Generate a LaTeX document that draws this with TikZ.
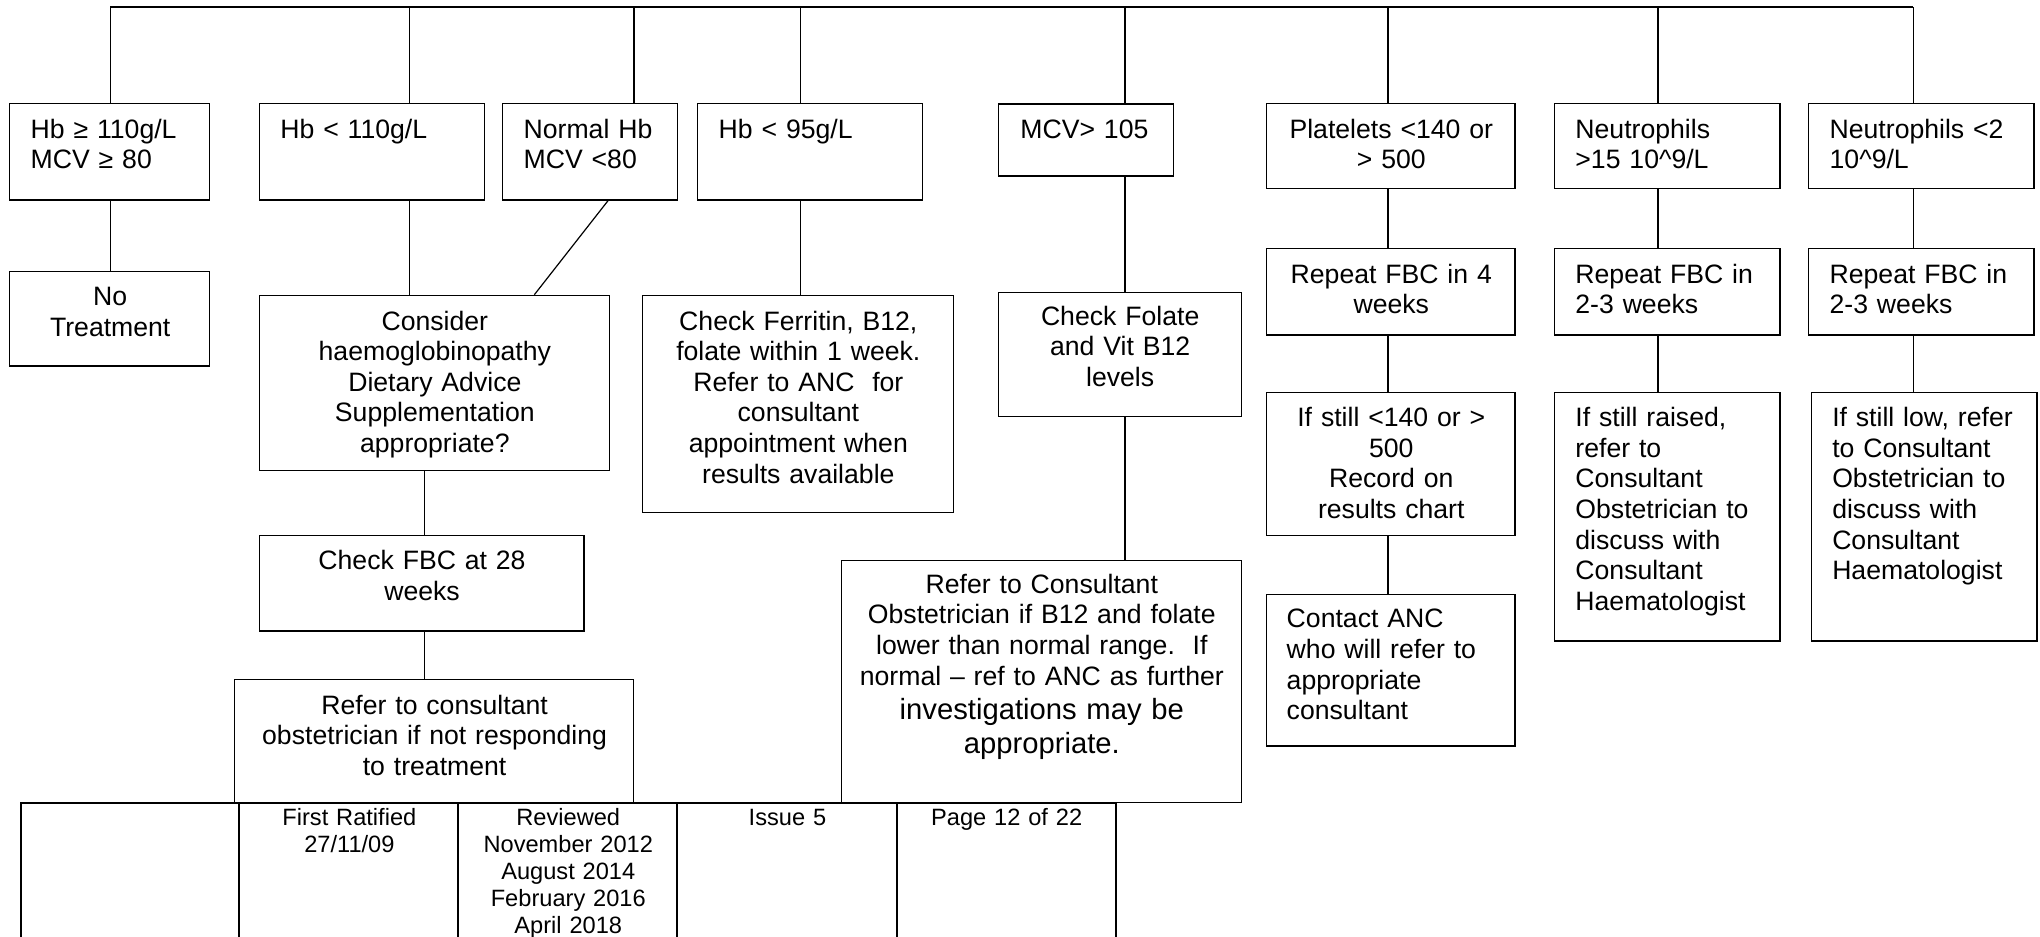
\documentclass[tikz,border=0pt]{standalone}
\usepackage{fontspec}
\setmainfont{Liberation Sans}
\usetikzlibrary{fit}
\begin{document}
\begin{tikzpicture}[x=0.65pt,y=-0.65pt,
  box/.style={draw, line width=0.6pt, inner sep=0pt},
  cell/.style={draw, line width=1pt, inner sep=0pt},
  lnk/.style={line width=0.6pt},
  txt/.style={inner sep=0pt, anchor=base west, font=\fontsize{13.3}{15.3}\selectfont},
  lt/.style={txt, align=left},
  ct/.style={txt, align=center},
  big/.style={txt, align=center, font=\fontsize{14.6}{16.9}\selectfont},
  tab/.style={inner sep=0pt, anchor=base west, align=center, font=\fontsize{11.8}{13.45}\selectfont},
]
\useasboundingbox (0,0) rectangle (1568,720);

% ---- boxes ----
\node[box, fit={(7.5,79.4) (161.3,153.7)}] (A) {};
\node[box, fit={(199.4,79.4) (372.3,153.7)}] (B) {};
\node[box, fit={(386,79.4) (520.5,153.7)}] (C) {};
\node[box, fit={(536.4,79.4) (709.3,153.7)}] (D) {};
\node[box, fit={(767.4,80) (901.9,135.3)}] (E) {};
\node[box, fit={(973.6,79.4) (1164.5,144.7)}] (F) {};
\node[box, fit={(1194.7,79.4) (1368.2,144.7)}] (G) {};
\node[box, fit={(1389.8,79.4) (1563.3,144.7)}] (H) {};

\node[box, fit={(7.5,208.8) (161.3,281.3)}] (A2) {};
\node[box, fit={(199.4,227) (468.4,361.7)}] (B2) {};
\node[box, fit={(494,227) (732.6,393.7)}] (D2) {};
\node[box, fit={(767.3,225) (954,320)}] (E2) {};
\node[box, fit={(973.6,190.9) (1164.5,257.5)}] (F2) {};
\node[box, fit={(1194.7,190.9) (1368.2,257.5)}] (G2) {};
\node[box, fit={(1389.8,190.9) (1563.3,257.5)}] (H2) {};

\node[box, fit={(973.6,301.6) (1164.5,411.7)}] (F3) {};
\node[box, fit={(1194.7,301.6) (1368.2,492.7)}] (G3) {};
\node[box, fit={(1392.1,301.6) (1565.6,492.7)}] (H3) {};
\node[box, fit={(973.6,456.8) (1164.5,573.4)}] (F4) {};
\node[box, fit={(199.3,411.7) (448.8,485)}] (B3) {};
\node[box, fit={(180.5,522.3) (487,617)}] (B4) {};
\node[box, fit={(647,430.5) (954,617)}] (E3) {};

% ---- footer table ----
\node[cell, fit={(16,617) (184,735)}] (T1) {};
\node[cell, fit={(184,617) (352.4,735)}] (T2) {};
\node[cell, fit={(352.4,617) (520.5,735)}] (T3) {};
\node[cell, fit={(520.5,617) (689.4,735)}] (T4) {};
\node[cell, fit={(689.4,617) (857.5,735)}] (T5) {};

% ---- texts ----
\node[lt, text width=88.4pt] (tA) at (23.3,106.3) {Hb ≥ 110g/L\\MCV ≥ 80};
\node[lt, text width=100.8pt] (tB) at (215.2,106.3) {Hb < 110g/L};
\node[lt, text width=75.6pt] (tC) at (402.2,106.3) {Normal Hb\\MCV <80};
\node[lt, text width=100.8pt] (tD) at (552.1,106.3) {Hb < 95g/L};
\node[lt, text width=75.3pt] (tE) at (784,106.3) {MCV> 105};
\node[ct, text width=117.6pt] (tF) at (978.6,106.3) {Platelets <140 or\\> 500};
\node[lt, text width=101.1pt] (tG) at (1210.6,106.3) {Neutrophils\\>15 10\^{}9/L};
\node[lt, text width=100.9pt] (tH) at (1406,106.3) {Neutrophils <2\\10\^{}9/L};

\node[ct, text width=93.5pt] (tA2) at (12.5,235) {No\\Treatment};
\node[ct, text width=168.4pt] (tB2) at (204.4,253.7) {Consider\\haemoglobinopathy\\Dietary Advice\\Supplementation\\appropriate?};
\node[ct, text width=148.6pt] (tD2) at (499,253.7) {Check Ferritin, B12,\\folate within 1 week.\\Refer to ANC\ \ for\\consultant\\appointment when\\results available};
\node[ct, text width=114.9pt] (tE2) at (772.3,249.8) {Check Folate\\and Vit B12\\levels};
\node[ct, text width=117.6pt] (tF2) at (978.6,217.8) {Repeat FBC in 4\\weeks};
\node[lt, text width=101.1pt] (tG2) at (1210.6,217.8) {Repeat FBC in\\2-3 weeks};
\node[lt, text width=100.9pt] (tH2) at (1406,217.8) {Repeat FBC in\\2-3 weeks};

\node[ct, text width=117.6pt] (tF3) at (978.6,328) {If still <140 or >\\500\\Record on\\results chart};
\node[lt, text width=101.1pt] (tG3) at (1210.6,328) {If still raised,\\refer to\\Consultant\\Obstetrician to\\discuss with\\Consultant\\Haematologist};
\node[lt, text width=101.1pt] (tH3) at (1408,328) {If still low, refer\\to Consultant\\Obstetrician to\\discuss with\\Consultant\\Haematologist};
\node[lt, text width=113pt] (tF4) at (988.7,482.5) {Contact ANC\\who will refer to\\appropriate\\consultant};
\node[ct, text width=155.7pt] (tB3) at (204.3,438) {Check FBC at 28\\weeks};
\node[ct, text width=192.7pt] (tB4) at (185.5,548.8) {Refer to consultant\\obstetrician if not responding\\to treatment};
\node[ct, text width=193pt] (tE3a) at (652,456) {Refer to Consultant\\Obstetrician if B12 and folate\\lower than normal range.\ \ If\\normal – ref to ANC as further};
\node[big, text width=193pt] (tE3b) at (652,552.8) {investigations may be\\appropriate.};

\node[tab, text width=103pt] (tT2) at (189,634.7) {First Ratified\\27/11/09};
\node[tab, text width=102.8pt] (tT3) at (357.4,634.7) {Reviewed\\November 2012\\August 2014\\February 2016\\April 2018};
\node[tab, text width=103.3pt] (tT4) at (525.5,634.7) {Issue 5};
\node[tab, text width=102.8pt] (tT5) at (694.4,634.7) {Page 12 of 22};

% ---- connectors ----
\coordinate (xA) at (84.8,5.6);
\coordinate (xB) at (314.7,5.6);
\coordinate (xC) at (487.3,5.6);
\coordinate (xD) at (615.2,5.6);
\coordinate (xE) at (864.7,5.6);
\coordinate (xF) at (1066.9,5.6);
\coordinate (xG) at (1274.4,5.6);
\coordinate (xH) at (1470.5,5.6);
\coordinate (xb) at (326,0);
\coordinate (c1) at (467.4,0);
\coordinate (c2) at (410.7,0);

\draw[lnk, line width=0.8pt] (xA) -- (xH);
\foreach \n in {A,B,C,D,E,F,G,H} \draw[lnk] (x\n) -- (x\n |- \n.north);

\draw[lnk] (xA |- A.south) -- (xA |- A2.north);
\draw[lnk] (xB |- B.south) -- (xB |- B2.north);
\draw[lnk] (c1 |- C.south) -- (c2 |- B2.north);
\draw[lnk] (xD |- D.south) -- (xD |- D2.north);
\draw[lnk] (xE |- E.south) -- (xE |- E2.north);
\draw[lnk] (xE |- E2.south) -- (xE |- E3.north);
\draw[lnk] (xb |- B2.south) -- (xb |- B3.north);
\draw[lnk] (xb |- B3.south) -- (xb |- B4.north);
\draw[lnk] (xF |- F.south) -- (xF |- F2.north);
\draw[lnk] (xF |- F2.south) -- (xF |- F3.north);
\draw[lnk] (xF |- F3.south) -- (xF |- F4.north);
\draw[lnk] (xG |- G.south) -- (xG |- G2.north);
\draw[lnk] (xG |- G2.south) -- (xG |- G3.north);
\draw[lnk] (xH |- H.south) -- (xH |- H2.north);
\draw[lnk] (xH |- H2.south) -- (xH |- H3.north);
\end{tikzpicture}
\end{document}
